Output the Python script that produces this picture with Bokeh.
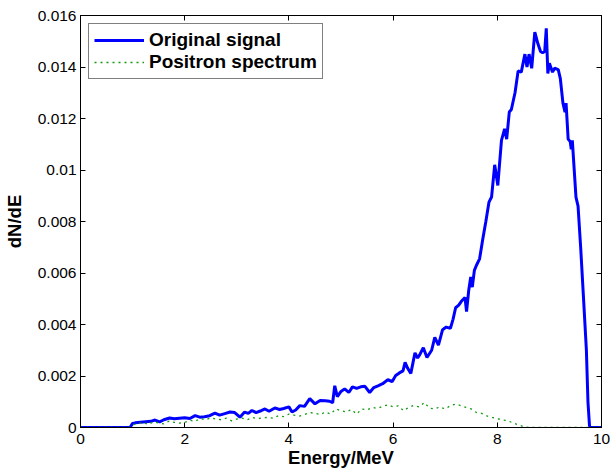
from bokeh.plotting import figure
from bokeh.models import (ColumnDataSource, Legend, LegendItem, LinearAxis,
                          FixedTicker, CustomJSTickFormatter, Range1d)
from bokeh.embed import file_html
from bokeh.resources import INLINE

# ---------------- data ----------------
energy_signal = [0, 0.95, 1.0, 1.05, 1.15, 1.25, 1.35, 1.43, 1.52, 1.6, 1.71, 1.8, 1.9, 2.0,
                 2.1, 2.2, 2.29, 2.38, 2.48, 2.58, 2.67, 2.77, 2.87, 2.96, 3.06, 3.15, 3.22,
                 3.29, 3.37, 3.45, 3.54, 3.62, 3.73, 3.82, 3.9, 4.0, 4.06, 4.13, 4.21, 4.3,
                 4.4, 4.5, 4.6, 4.7, 4.78, 4.84, 4.88, 4.93, 5.0, 5.07, 5.15, 5.22, 5.3,
                 5.38, 5.46, 5.55, 5.63, 5.71, 5.8, 5.9, 5.98, 6.05, 6.12, 6.19, 6.23, 6.28,
                 6.34, 6.38, 6.42, 6.47, 6.51, 6.58, 6.65, 6.74, 6.8, 6.87, 6.95, 7.02, 7.1,
                 7.15, 7.2, 7.26, 7.31, 7.38, 7.41, 7.45, 7.49, 7.52, 7.56, 7.6, 7.66, 7.72,
                 7.78, 7.84, 7.89, 7.95, 8.01, 8.08, 8.14, 8.18, 8.23, 8.27, 8.34, 8.4, 8.46,
                 8.53, 8.57, 8.61, 8.66, 8.72, 8.78, 8.83, 8.87, 8.91, 8.94, 8.97, 9.0, 9.06,
                 9.1, 9.17, 9.21, 9.26, 9.3, 9.32, 9.36, 9.4, 9.42, 9.44, 9.51, 9.55, 9.6,
                 9.65, 9.71, 9.74, 9.77, 9.85, 10.0]
signal_e3 = [0, 0, 0.16, 0.18, 0.2, 0.22, 0.24, 0.29, 0.22, 0.3, 0.37, 0.34, 0.36, 0.38,
             0.35, 0.46, 0.4, 0.42, 0.46, 0.56, 0.48, 0.54, 0.6, 0.58, 0.4, 0.6, 0.55,
             0.66, 0.58, 0.64, 0.72, 0.63, 0.76, 0.7, 0.74, 0.8, 0.6, 0.68, 0.85, 0.82,
             1.12, 0.92, 1.05, 1.04, 1.02, 0.96, 1.62, 1.2, 1.4, 1.5, 1.36, 1.58, 1.52,
             1.58, 1.6, 1.36, 1.55, 1.62, 1.7, 1.86, 1.78, 2.02, 2.12, 2.2, 2.53, 2.3,
             2.1, 2.5, 2.9, 2.7, 2.82, 3.1, 2.72, 3.0, 3.5, 3.2, 3.8, 3.9, 3.85,
             4.2, 4.65, 4.75, 4.9, 5.05, 4.5, 5.3, 5.85, 5.45, 6.1, 6.3, 6.55, 7.3,
             8.0, 8.75, 8.95, 10.2, 9.4, 11.15, 11.6, 11.2, 12.25, 12.35, 13.0, 13.85, 13.8,
             14.5, 14.0, 14.5, 13.95, 15.35, 14.9, 14.6, 14.55, 14.6, 15.5, 13.75, 14.15, 13.8,
             13.95, 13.9, 13.55, 12.6, 12.25, 12.6, 11.2, 11.1, 10.8, 11.15, 8.95, 8.6, 7.0,
             5.2, 3.0, 1.0, 0.05, 0, 0]

energy_positron = [0, 0.95, 1.0, 1.1, 1.2, 1.3, 1.4, 1.5, 1.6, 1.7, 1.8, 1.9, 2.0, 2.1, 2.2,
                   2.3, 2.4, 2.5, 2.6, 2.7, 2.8, 2.9, 3.0, 3.1, 3.2, 3.3, 3.4, 3.5, 3.6, 3.7,
                   3.8, 3.9, 4.0, 4.1, 4.2, 4.3, 4.4, 4.5, 4.6, 4.7, 4.8, 4.9, 5.0, 5.1, 5.2,
                   5.3, 5.4, 5.5, 5.6, 5.7, 5.8, 5.9, 6.0, 6.1, 6.2, 6.3, 6.4, 6.5, 6.6, 6.7,
                   6.8, 6.9, 7.0, 7.1, 7.2, 7.3, 7.4, 7.5, 7.6, 7.7, 7.8, 7.9, 8.0, 8.1, 8.2,
                   8.3, 8.4, 8.5, 8.6, 10.0]
positron_e3 = [0, 0, 0.1, 0.15, 0.2, 0.12, 0.22, 0.18, 0.14, 0.25, 0.2, 0.17, 0.2, 0.28, 0.24,
               0.35, 0.3, 0.38, 0.33, 0.3, 0.36, 0.26, 0.33, 0.36, 0.3, 0.39, 0.34, 0.38, 0.39, 0.36,
               0.46, 0.42, 0.52, 0.48, 0.44, 0.5, 0.58, 0.55, 0.5, 0.6, 0.52, 0.72, 0.65, 0.6, 0.7,
               0.52, 0.72, 0.68, 0.78, 0.74, 0.82, 0.88, 0.8, 0.84, 0.65, 0.78, 0.86, 0.8, 0.97, 0.75,
               0.72, 0.8, 0.72, 0.85, 0.91, 0.85, 0.78, 0.72, 0.58, 0.55, 0.45, 0.39, 0.34, 0.3, 0.26,
               0.18, 0.1, 0.04, 0, 0]

x_ticks = [0, 2, 4, 6, 8, 10]
y_ticks = [0, 0.002, 0.004, 0.006, 0.008, 0.01, 0.012, 0.014, 0.016]
series_names = ["Original signal", "Positron spectrum"]
x_label = "Energy/MeV"
y_label = "dN/dE"

signal = [v * 1e-3 for v in signal_e3]
positron = [v * 1e-3 for v in positron_e3]

FONT = "Liberation Sans"

p = figure(width=611, height=470, output_backend="svg", toolbar_location=None,
           x_range=Range1d(0, 10), y_range=Range1d(0, 0.016),
           min_border_left=80, min_border_right=10, min_border_top=15, min_border_bottom=43)
p.grid.visible = False
p.outline_line_color = "black"
p.outline_line_width = 1
p.background_fill_color = "white"
p.border_fill_color = "white"

src_s = ColumnDataSource(dict(x=energy_signal, y=signal))
src_p = ColumnDataSource(dict(x=energy_positron, y=positron))
r_sig = p.line("x", "y", source=src_s, line_color="#0000FF", line_width=3)
r_pos = p.line("x", "y", source=src_p, line_color="#119911", line_width=1.3, line_dash="2 4")

fmt = CustomJSTickFormatter(code="return tick.toString();")

def style_axis(ax, ticks, show_labels=True):
    ax.ticker = FixedTicker(ticks=ticks)
    ax.major_tick_in = 5
    ax.major_tick_out = 0
    ax.minor_tick_line_color = None
    ax.axis_line_color = "black"
    ax.major_tick_line_color = "black"
    ax.major_label_text_font = FONT
    ax.major_label_text_font_size = "15.5px"
    ax.major_label_text_color = "black"
    if not show_labels:
        ax.major_label_text_font_size = "1px"
        ax.major_label_text_color = None
        ax.major_label_standoff = 0

style_axis(p.xaxis[0], x_ticks)
style_axis(p.yaxis[0], y_ticks)
p.yaxis[0].formatter = fmt
p.xaxis[0].formatter = fmt
p.xaxis[0].major_label_standoff = 6
p.yaxis[0].major_label_standoff = 4

p.xaxis[0].axis_label = x_label
p.yaxis[0].axis_label = y_label
for ax in (p.xaxis[0], p.yaxis[0]):
    ax.axis_label_text_font = FONT
    ax.axis_label_text_font_style = "bold"
    ax.axis_label_text_font_size = "18.5px"
    ax.axis_label_text_color = "black"
p.xaxis[0].axis_label_standoff = 0
p.yaxis[0].axis_label_standoff = 10

top = LinearAxis()
right = LinearAxis()
style_axis(top, x_ticks, show_labels=False)
style_axis(right, y_ticks, show_labels=False)
p.add_layout(top, "above")
p.add_layout(right, "right")

legend = Legend(items=[LegendItem(label=series_names[0], renderers=[r_sig]),
                       LegendItem(label=series_names[1], renderers=[r_pos])],
                location="top_left")
legend.margin = 8
legend.padding = 5
legend.spacing = 0
legend.glyph_width = 50
legend.glyph_height = 20
legend.label_height = 20
legend.label_standoff = 5
legend.label_text_font = FONT
legend.label_text_font_style = "bold"
legend.label_text_font_size = "19px"
legend.label_text_color = "black"
legend.border_line_color = "black"
legend.border_line_width = 1.5
legend.background_fill_color = "white"
legend.background_fill_alpha = 1
p.add_layout(legend)

open("out.html", "w").write(file_html(p, INLINE))
